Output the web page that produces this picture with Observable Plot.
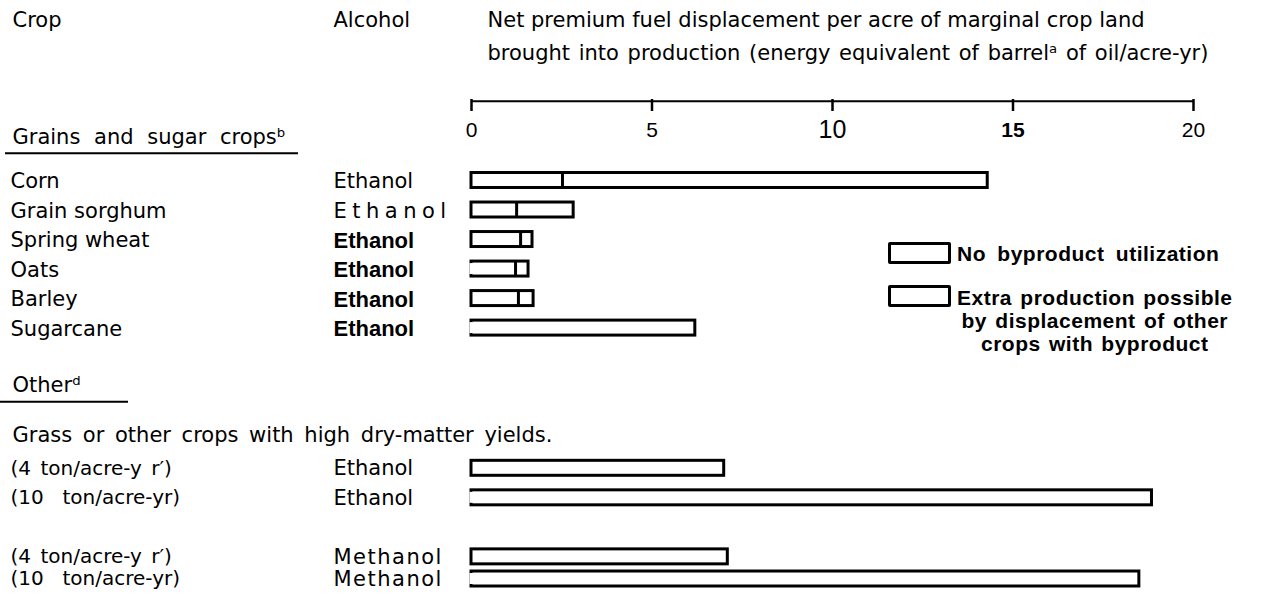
<!DOCTYPE html>
<html><head><meta charset="utf-8">
<script src="https://cdn.jsdelivr.net/npm/d3@7"></script>
<script src="https://cdn.jsdelivr.net/npm/@observablehq/plot@0.6"></script>
<style>
body{margin:0;background:#fff;}
#wrap{position:relative;width:1264px;height:607px;overflow:hidden;}
#legend{position:absolute;left:888px;top:242px;font-family:"Liberation Sans",Arial,sans-serif;font-weight:bold;font-size:21px;color:#000;letter-spacing:0.5px;word-spacing:5px;}
.item{display:flex;align-items:flex-start;}
.box{width:57px;height:16px;border:3px solid #000;border-radius:2px;background:#fff;flex:none;}
.txt{margin-left:6px;line-height:23px;white-space:nowrap;}
.txt2{margin-left:6px;line-height:23px;text-align:center;white-space:nowrap;}
</style></head>
<body><div id="wrap"><div id="chart"></div>
<div id="legend">
 <div class="item"><div class="box"></div><div class="txt" style="margin-top:0px">No byproduct utilization</div></div>
 <div class="item" style="margin-top:20px"><div class="box"></div><div class="txt2" style="margin-top:1px;word-spacing:2px">Extra production possible<br>by displacement of other<br>crops with byproduct</div></div>
</div></div>
<script>
// ---- data ----
const crops = ["Corn", "Grain sorghum", "Spring wheat", "Oats", "Barley", "Sugarcane"];
const cropAlcohol = ["Ethanol", "Ethanol", "Ethanol", "Ethanol", "Ethanol", "Ethanol"];
const noByproduct = [2.52, 1.25, 1.36, 1.22, 1.30, 6.2];
const withByproduct = [14.3, 2.83, 1.69, 1.58, 1.72, 6.2];
const otherLabels = ["(4 ton/acre-y r′)", "(10  ton/acre-yr)", "(4 ton/acre-y r′)", "(10  ton/acre-yr)"];
const otherAlcohol = ["Ethanol", "Ethanol", "Methanol", "Methanol"];
const otherValues = [7.0, 18.85, 7.1, 18.5];
const xTicks = [0, 5, 10, 15, 20];

const grainRows = crops.map((c, i) => ({key: c, label: c, alcohol: cropAlcohol[i], base: noByproduct[i], total: withByproduct[i]}));
const otherRows = otherLabels.map((l, i) => ({key: l + " " + otherAlcohol[i], label: l, alcohol: otherAlcohol[i], base: otherValues[i], total: otherValues[i]}));
const allRows = grainRows.concat(otherRows);

// row layout in quarter-row slots
const slotIndex = new Map([["hdr", -22], ["hdr2", -17], ["axis", -11], ["grains", -6], ["other", 28], ["grass", 35]]);
grainRows.forEach((r, i) => slotIndex.set(r.key, 4 * i));
[39, 43, 51, 54].forEach((p, i) => slotIndex.set(otherRows[i].key, p));
const byIndex = new Map([...slotIndex].map(([k, v]) => [v, k]));
const slots = d3.range(-22, 55).map(i => byIndex.get(i) ?? ("·" + i));

const gothic = "DejaVu Sans";
const arial = "Liberation Sans";
const narrow = "'Liberation Sans Narrow', 'Liberation Sans', Arial";
const bold = new Set(["Spring wheat", "Oats", "Barley", "Sugarcane"]);
const openLeft = new Set(["Oats", "Sugarcane", otherRows[1].key, otherRows[3].key]);
const ins = -3.8;
const sw = 3;
const tag = name => () => name;

const chart = Plot.plot({
  width: 1264, height: 607, margin: 0,
  style: {background: "white", color: "black", fontFamily: gothic, fontSize: "21px"},
  x: {domain: [0, 20], range: [471, 1193], axis: null},
  y: {type: "band", domain: slots, range: [13.95, 582.2], padding: 0, round: false, axis: null},
  marks: [
    // axis
    Plot.ruleY(["axis"], {y: d => d, x1: 0, x2: 20, dy: 2, stroke: "black", strokeWidth: 2}),
    Plot.ruleX(xTicks, {x: d => d, y1: () => "axis", y2: () => "axis", stroke: "black", strokeWidth: 2.5, insetTop: 3.9, insetBottom: -8.5}),
    Plot.text(xTicks, {x: d => d, y: () => "axis", dy: 31, text: d => String(d), fontFamily: narrow, fontSize: 21, ariaLabel: tag("tick-label")}),
    // bars
    Plot.barX(allRows, {x1: 0, x2: "total", y: "key", fill: "white", stroke: "black", strokeWidth: sw, insetTop: ins, insetBottom: ins}),
    Plot.ruleX(allRows.filter(d => openLeft.has(d.key)), {x: 0, y1: "key", y2: "key", stroke: "white", strokeWidth: sw + 1, insetTop: ins + 2, insetBottom: ins + 2}),
    Plot.ruleX(grainRows.filter(d => d.total > d.base), {x: "base", y1: "key", y2: "key", stroke: "black", strokeWidth: sw, insetTop: ins, insetBottom: ins}),
    // headers
    Plot.text(["Crop"], {y: ["hdr"], text: d => d, frameAnchor: "left", textAnchor: "start", dx: 12, dy: 2}),
    Plot.text(["Alcohol"], {y: ["hdr"], text: d => d, frameAnchor: "left", textAnchor: "start", dx: 333, dy: 2}),
    Plot.text(["Net premium fuel displacement per acre of marginal crop land"], {y: ["hdr"], text: d => d, frameAnchor: "left", textAnchor: "start", dx: 487, dy: 2}),
    Plot.text(["brought into production (energy equivalent of barrelᵃ of oil/acre-yr)"], {y: ["hdr2"], text: d => d, frameAnchor: "left", textAnchor: "start", dx: 487, dy: -2, ariaLabel: tag("title2")}),
    Plot.text(["Grains and sugar cropsᵇ"], {y: ["grains"], text: d => d, frameAnchor: "left", textAnchor: "start", dx: 12, dy: 1, ariaLabel: tag("grains-header")}),
    Plot.ruleY(["grains"], {y: d => d, dy: 17, insetLeft: 5, insetRight: 966, stroke: "black", strokeWidth: 2}),
    Plot.text(["Otherᵈ"], {y: ["other"], text: d => d, frameAnchor: "left", textAnchor: "start", dx: 12, dy: -1.5}),
    Plot.ruleY(["other"], {y: d => d, dy: 14.5, insetLeft: 0, insetRight: 1136, stroke: "black", strokeWidth: 2}),
    Plot.text(["Grass or other crops with high dry-matter yields."], {y: ["grass"], text: d => d, frameAnchor: "left", textAnchor: "start", dx: 12, dy: -4, ariaLabel: tag("grass")}),
    // row labels
    Plot.text(grainRows, {y: "key", text: "label", frameAnchor: "left", textAnchor: "start", dx: 10, dy: 1}),
    Plot.text(otherRows, {y: "key", text: "label", frameAnchor: "left", textAnchor: "start", dx: 10, dy: 0, fontSize: 20, ariaLabel: tag("other-label")}),
    Plot.text(grainRows.filter(d => d.key === "Corn"), {y: "key", text: "alcohol", frameAnchor: "left", textAnchor: "start", dx: 333, dy: 1}),
    Plot.text(grainRows.filter(d => d.key === "Grain sorghum"), {y: "key", text: "alcohol", frameAnchor: "left", textAnchor: "start", dx: 333, dy: 1, ariaLabel: tag("spaced-alcohol")}),
    Plot.text(grainRows.filter(d => bold.has(d.key)), {y: "key", text: "alcohol", frameAnchor: "left", textAnchor: "start", dx: 333, dy: 1, fontFamily: arial, fontWeight: "bold", fontSize: 22}),
    Plot.text(otherRows.filter(d => d.alcohol === "Ethanol"), {y: "key", text: "alcohol", frameAnchor: "left", textAnchor: "start", dx: 333, dy: 0}),
    Plot.text(otherRows.filter(d => d.alcohol === "Methanol"), {y: "key", text: "alcohol", frameAnchor: "left", textAnchor: "start", dx: 333, dy: 0, ariaLabel: tag("methanol")})
  ]
});
const svg = d3.select(chart);
const styleText = (label, prop, value) => svg.selectAll(`text[aria-label="${label}"]`).style(prop, value);
styleText("spaced-alcohol", "letter-spacing", "5.5px");
styleText("methanol", "letter-spacing", "1.5px");
styleText("grains-header", "word-spacing", "7px");
styleText("grass", "word-spacing", "4px");
styleText("title2", "word-spacing", "2px");
styleText("other-label", "word-spacing", "3px");
svg.selectAll('text[aria-label="tick-label"]').each(function () {
  const t = this.textContent;
  if (t === "10") d3.select(this).style("font-size", "25px");
  if (t === "15") d3.select(this).style("font-weight", "bold");
});
document.getElementById("chart").appendChild(chart);
</script>
</body></html>
